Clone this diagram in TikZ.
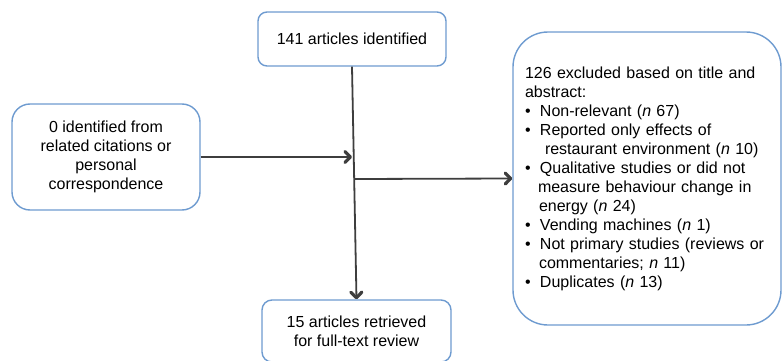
\documentclass[tikz,border=0pt]{standalone}
\usepackage{fontspec}
\setmainfont{Liberation Sans}
\usetikzlibrary{arrows.meta}
\definecolor{boxblue}{RGB}{110,155,208}
\definecolor{pfeilgrau}{RGB}{62,62,62}
\newcommand{\bul}{\makebox[15pt][l]{\textbullet}}

\begin{document}
\begin{tikzpicture}[x=1pt, y=-1pt,
    kasten/.style={draw=boxblue, line width=1.4pt, fill=white, inner sep=0pt,
        align=center, font=\fontsize{16}{19}\selectfont},
    pfeil/.style={draw=pfeilgrau, line width=1.8pt,
        -{Straight Barb[length=5.5pt, width=11pt, line width=3.2pt 0, round]}}]

    \useasboundingbox (0,0) rectangle (782,361);

    \node[kasten, rounded corners=9pt, minimum width=188pt, minimum height=54pt] (ident) at (352,39) {141 articles identified};
    \node[kasten, rounded corners=18pt, minimum width=188pt, minimum height=106pt] (other) at (106,157) {0 identified from\\related citations or\\personal\\correspondence};
    \node[kasten, rounded corners=10pt, minimum width=189pt, minimum height=62pt] (retr) at (356.5,331) {15 articles retrieved\\for full-text review};
    \node[kasten, rounded corners=35pt, text width=244pt, inner xsep=12pt, minimum height=293pt, align=left] (excl) at (647,178.5) {126 excluded based on title and\\
        abstract:\\
        \bul Non-relevant (\textit{n} 67)\\
        \bul Reported only effects of\\
        \hspace*{20pt}restaurant environment (\textit{n} 10)\\
        \bul Qualitative studies or did not\\
        \hspace*{13pt}measure behaviour change in\\
        \hspace*{14pt}energy (\textit{n} 24)\\
        \bul Vending machines (\textit{n} 1)\\
        \bul Not primary studies (reviews or\\
        \hspace*{14pt}commentaries; \textit{n} 11)\\
        \bul Duplicates (\textit{n} 13)};

    \coordinate (merge) at (352,157);
    \coordinate (split) at (355,179);

    \draw[pfeil] (ident.south) -- (retr.north);
    \draw[pfeil] (other.east) -- (merge);
    \draw[pfeil] (split) -- (excl.west);

\end{tikzpicture}
\end{document}
